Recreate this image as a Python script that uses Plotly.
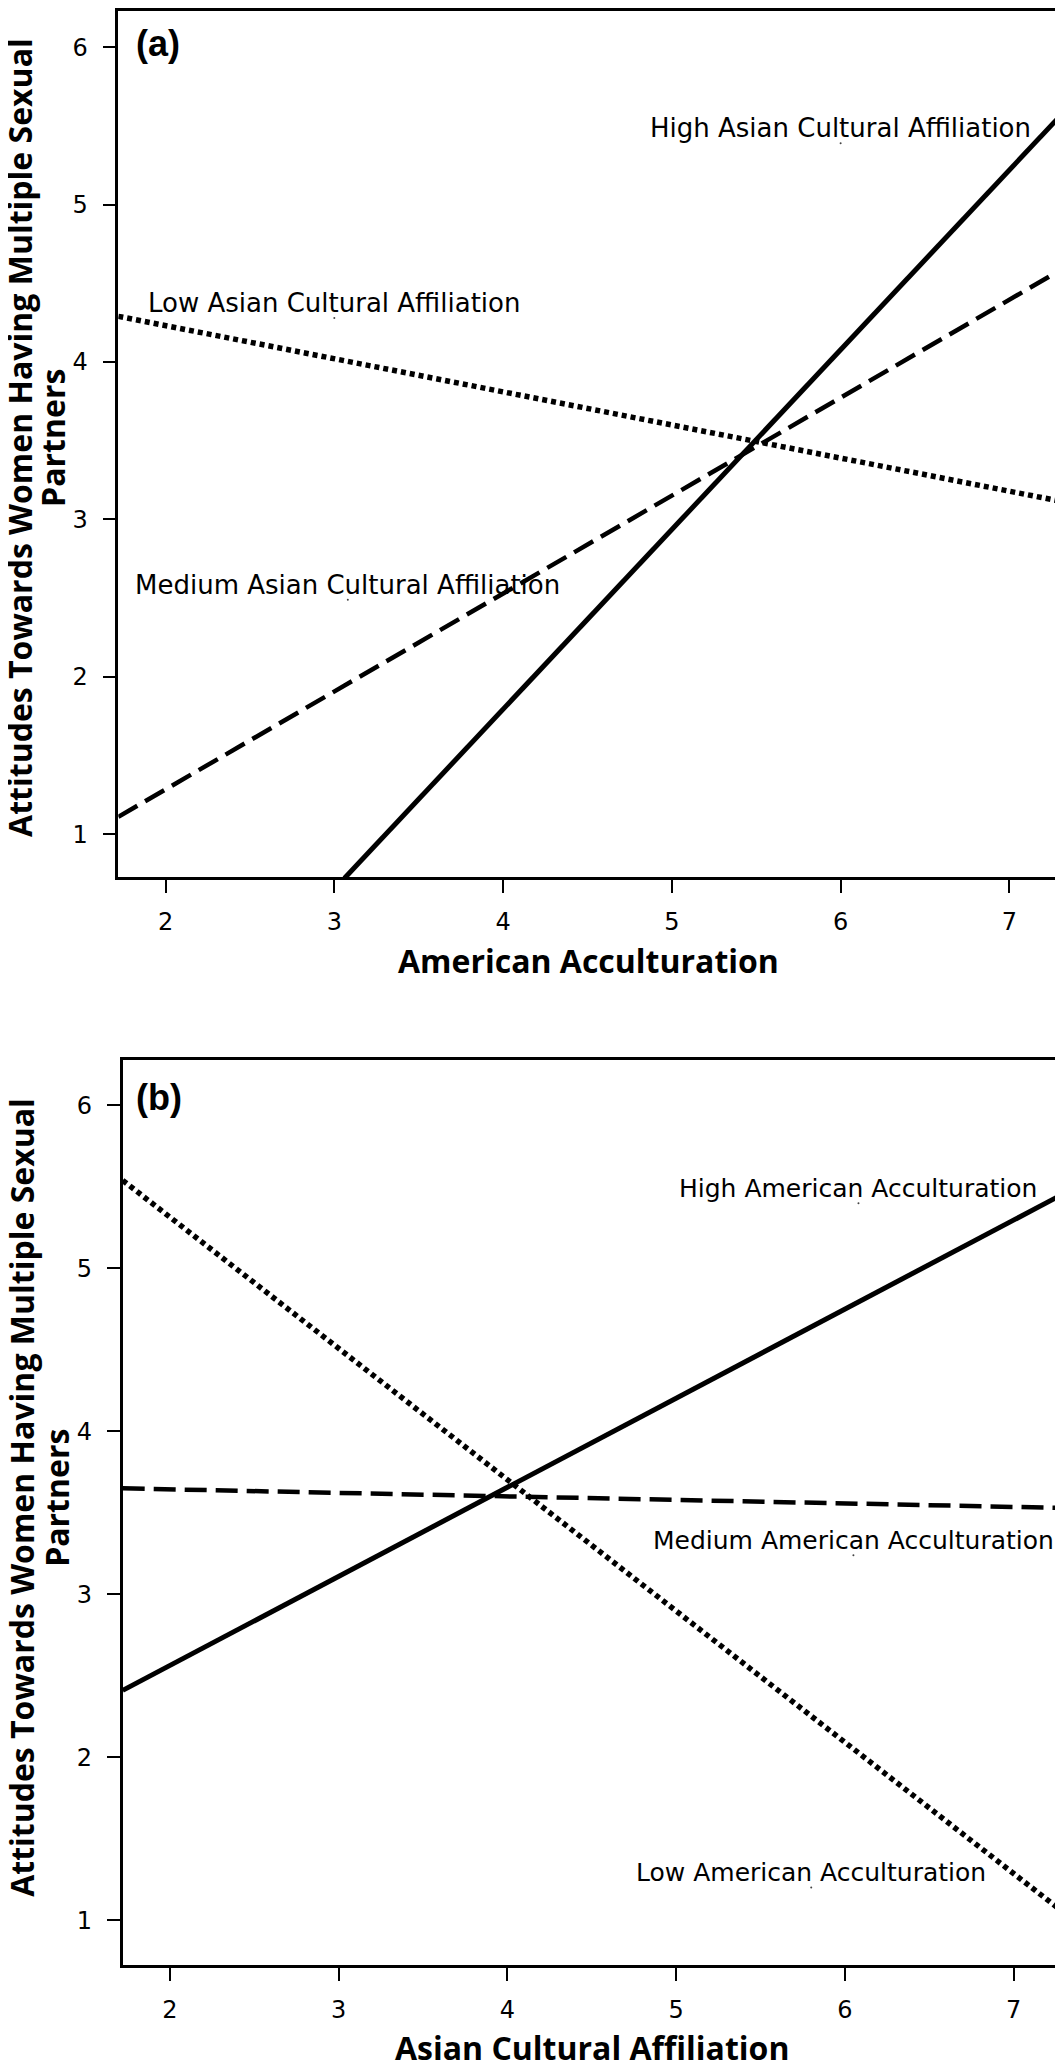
import plotly.graph_objects as go

# ---- data ----
# panel (a): attitude vs American acculturation, by Asian cultural affiliation
a_low_x = [1.72, 7.28]
a_low_y = [4.29, 3.12]
a_med_x = [1.72, 7.28]
a_med_y = [1.11, 4.57]
a_high_x = [3.06, 7.28]
a_high_y = [0.72, 5.54]

a_labels = ["High Asian Cultural Affiliation",
            "Low Asian Cultural Affiliation",
            "Medium Asian Cultural Affiliation"]
a_label_x = [6.0, 3.0, 3.08]
a_label_y = [5.39, 4.28, 2.49]

# panel (b): attitude vs Asian cultural affiliation, by American acculturation
b_high_x = [1.72, 7.28]
b_high_y = [2.41, 5.45]
b_med_x = [1.72, 7.28]
b_med_y = [3.65, 3.53]
b_low_x = [1.72, 7.28]
b_low_y = [5.54, 1.06]

b_labels = ["High American Acculturation",
            "Medium American Acculturation",
            "Low American Acculturation"]
b_label_x = [6.08, 6.05, 5.80]
b_label_y = [5.40, 3.24, 1.20]

x_ticks = [2, 3, 4, 5, 6, 7]
y_ticks = [1, 2, 3, 4, 5, 6]

y_title_1 = "Attitudes Towards Women Having Multiple Sexual"
y_title_2 = "Partners"

W, H = 1063, 2061
PAGE_PAD = 8  # browser body margin around the plot div


def px_x(p):
    return (p - PAGE_PAD) / W


def px_y(p):
    return min(1.0, 1 - (p - PAGE_PAD) / H)


SOLID = dict(color="black", width=5)
DASHED = dict(color="black", width=4.5, dash="22px,9px")
DOTTED = dict(color="black", width=5.5, dash="5px,4px")

fig = go.Figure()

# panel (a) lines
fig.add_trace(go.Scatter(x=a_high_x, y=a_high_y, mode="lines", line=SOLID, xaxis="x", yaxis="y"))
fig.add_trace(go.Scatter(x=a_med_x, y=a_med_y, mode="lines", line=DASHED, xaxis="x", yaxis="y"))
fig.add_trace(go.Scatter(x=a_low_x, y=a_low_y, mode="lines", line=DOTTED, xaxis="x", yaxis="y"))
fig.add_trace(go.Scatter(x=a_label_x, y=a_label_y, mode="markers",
                         marker=dict(color="#444", size=2), xaxis="x", yaxis="y"))

# panel (b) lines
fig.add_trace(go.Scatter(x=b_high_x, y=b_high_y, mode="lines", line=SOLID, xaxis="x2", yaxis="y2"))
fig.add_trace(go.Scatter(x=b_med_x, y=b_med_y, mode="lines", line=DASHED, xaxis="x2", yaxis="y2"))
fig.add_trace(go.Scatter(x=b_low_x, y=b_low_y, mode="lines", line=DOTTED, xaxis="x2", yaxis="y2"))
fig.add_trace(go.Scatter(x=b_label_x, y=b_label_y, mode="markers",
                         marker=dict(color="#444", size=2), xaxis="x2", yaxis="y2"))

tick_font = dict(family="DejaVu Sans", size=24, color="black")
axis_style = dict(
    showline=True, linecolor="black", linewidth=2.5, mirror=True,
    ticks="outside", ticklen=13, tickwidth=2, tickcolor="black",
    showgrid=False, zeroline=False, tickfont=tick_font,
)

# panel (a) top edge cannot sit above the page margin, so it starts at the
# first drawable row and the range top is trimmed to keep the same scale
fig.update_layout(
    width=W, height=H,
    margin=dict(l=0, r=0, t=0, b=0),
    paper_bgcolor="white", plot_bgcolor="white",
    showlegend=False,
    xaxis=dict(domain=[px_x(118.3), px_x(1056)], range=[1.72, 7.276], tickvals=x_ticks,
               anchor="y", ticklabelstandoff=8, **axis_style),
    yaxis=dict(domain=[px_y(875.7), px_y(8)], range=[0.725, 6.23], tickvals=y_ticks,
               anchor="x", ticklabelstandoff=10, **axis_style),
    xaxis2=dict(domain=[px_x(122.7), px_x(1060.3)], range=[1.72, 7.276], tickvals=x_ticks,
                anchor="y2", ticklabelstandoff=8, **axis_style),
    yaxis2=dict(domain=[px_y(1965.3), px_y(1059)], range=[0.722, 6.276], tickvals=y_ticks,
                anchor="x2", ticklabelstandoff=10, **axis_style),
)

title_font = dict(family="Open Sans", size=32, color="black", weight="bold")
panel_font = dict(family="Liberation Sans", size=36, color="black", weight="bold")


def note(**kw):
    fig.add_annotation(showarrow=False, xanchor="center", yanchor="middle", **kw)


# in-plot line labels
for txt, x, y in zip(a_labels, a_label_x, a_label_y):
    note(x=x, y=y, xref="x", yref="y", text=txt, yshift=15,
         font=dict(family="DejaVu Sans", size=26, color="black"))
for txt, x, y in zip(b_labels, b_label_x, b_label_y):
    note(x=x, y=y, xref="x2", yref="y2", text=txt, yshift=15,
         font=dict(family="DejaVu Sans", size=25, color="black"))

# panel letters
note(x=px_x(158), y=px_y(41), xref="paper", yref="paper", text="(a)", font=panel_font)
note(x=px_x(159.4), y=px_y(1096), xref="paper", yref="paper", text="(b)", font=panel_font)

# axis titles
note(x=px_x(588), y=px_y(958.4), xref="paper", yref="paper",
     text="American Acculturation", font=title_font)
note(x=px_x(591.5), y=px_y(2047.7), xref="paper", yref="paper",
     text="Asian Cultural Affiliation", font=title_font)

# y titles: first line pushed a little right so it stays inside the page
for cx1, cx2, cy in [(20, 53, 435.5), (22, 57, 1497)]:
    note(x=px_x(cx1), y=px_y(cy), xref="paper", yref="paper",
         text=y_title_1, textangle=-90, font=title_font)
    note(x=px_x(cx2), y=px_y(cy), xref="paper", yref="paper",
         text=y_title_2, textangle=-90, font=title_font)

fig.write_html("out.html")
